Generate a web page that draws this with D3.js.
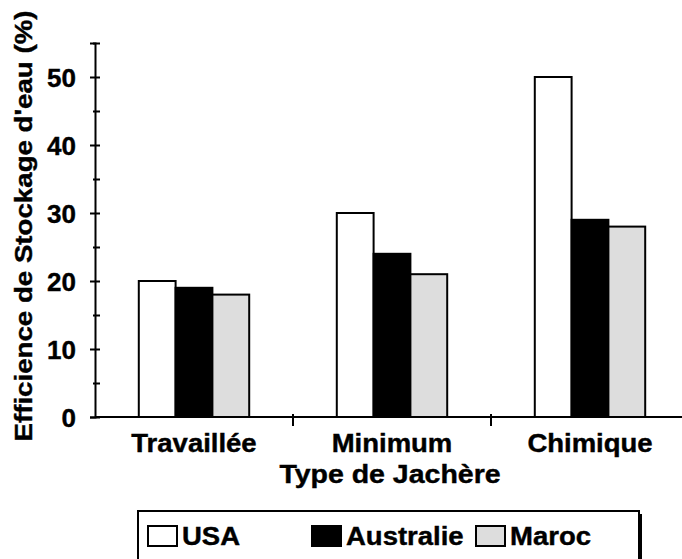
<!DOCTYPE html>
<html><head><meta charset="utf-8">
<script src="https://cdn.jsdelivr.net/npm/d3@7"></script>
<style>
html,body{margin:0;padding:0;background:#fff;}
text{font-family:"Liberation Sans",Arial,sans-serif;font-weight:bold;fill:#000;stroke:#000;stroke-width:0.4px;}
</style></head>
<body>
<svg id="chart" width="682" height="559"></svg>
<script>
const categories = ["Travaillée", "Minimum", "Chimique"];
const seriesNames = ["USA", "Australie", "Maroc"];
const usaValues = [20, 30, 50];
const australieValues = [19, 24, 29];
const marocValues = [18, 21, 28];
const majorTicks = [0, 10, 20, 30, 40, 50];
const minorTicks = [5, 15, 25, 35, 45, 55];
const yTitle = "Efficience de Stockage d'eau (%)";
const xTitle = "Type de Jachère";

const fills = {"USA": "#ffffff", "Australie": "#000000", "Maroc": "#dddddd"};
const seriesValues = {"USA": usaValues, "Australie": australieValues, "Maroc": marocValues};

const svg = d3.select("#chart");
const FS = 25, SX = 1.1;

const x = d3.scaleBand().domain(categories).range([95, 689]).padding(0);
const xs = d3.scaleBand().domain(seriesNames).range([0, x.bandwidth()]).paddingInner(0).paddingOuter(1.19);
const y = d3.scaleLinear().domain([0, 55]).range([417, 43]);

categories.forEach((c, ci) => {
  const g = svg.append("g").attr("transform", `translate(${x(c)},0)`);
  seriesNames.forEach(s => {
    const v = seriesValues[s][ci];
    g.append("rect")
      .attr("x", xs(s)).attr("width", xs.bandwidth())
      .attr("y", y(v)).attr("height", y(0) - y(v))
      .attr("fill", fills[s]).attr("stroke", "#000").attr("stroke-width", 2);
  });
});

svg.append("line").attr("x1", 95).attr("x2", 682).attr("y1", y(0)).attr("y2", y(0))
  .attr("stroke", "#000").attr("stroke-width", 2);
categories.slice(1).forEach(c => {
  svg.append("line").attr("x1", x(c)).attr("x2", x(c)).attr("y1", y(0) - 3).attr("y2", y(0) + 9)
    .attr("stroke", "#000").attr("stroke-width", 2);
});
categories.forEach(c => {
  svg.append("text")
    .attr("transform", `translate(${x(c) + x.bandwidth() / 2},452) scale(${SX},1)`)
    .attr("text-anchor", "middle").attr("font-size", FS).text(c);
});
svg.append("text")
  .attr("transform", `translate(${(x.range()[0] + x.range()[1]) / 2 - 2},483) scale(1.14,1)`)
  .attr("text-anchor", "middle").attr("font-size", FS).text(xTitle);

const yAxis = svg.append("g").attr("transform", "translate(95,0)")
  .call(d3.axisLeft(y).tickValues(majorTicks).tickSizeOuter(0).tickSize(5).tickFormat(""));
yAxis.select(".domain").attr("stroke-width", 2);
yAxis.selectAll(".tick line").attr("x1", -5).attr("x2", 5).attr("stroke-width", 2);
const yMinor = svg.append("g").attr("transform", "translate(95,0)")
  .call(d3.axisLeft(y).tickValues(minorTicks).tickSizeOuter(0).tickSize(2).tickFormat(""));
yMinor.select(".domain").remove();
yMinor.selectAll(".tick line").attr("x1", -2).attr("x2", 5).attr("stroke-width", 2);

majorTicks.forEach(t => {
  svg.append("text")
    .attr("x", 76).attr("y", y(t) + 10)
    .attr("text-anchor", "end").attr("font-size", 26).text(t);
});

svg.append("text")
  .attr("transform", `translate(32,226) rotate(-90) scale(1.13,1)`)
  .attr("text-anchor", "middle").attr("font-size", 24.5).text(yTitle);

const lg = svg.append("g");
lg.append("rect").attr("x", 141).attr("y", 514).attr("width", 501).attr("height", 60).attr("fill", "#000");
lg.append("rect").attr("x", 138).attr("y", 511).attr("width", 501).attr("height", 60)
  .attr("fill", "#fff").attr("stroke", "#000").attr("stroke-width", 2);
const legendX = [148, 312, 476];
seriesNames.forEach((s, i) => {
  lg.append("rect").attr("x", legendX[i]).attr("y", 526).attr("width", 29).attr("height", 20)
    .attr("fill", fills[s]).attr("stroke", "#000").attr("stroke-width", 2);
  lg.append("text")
    .attr("transform", `translate(${legendX[i] + 34},545) scale(${SX},1)`)
    .attr("font-size", FS).text(s);
});
</script>
</body></html>
